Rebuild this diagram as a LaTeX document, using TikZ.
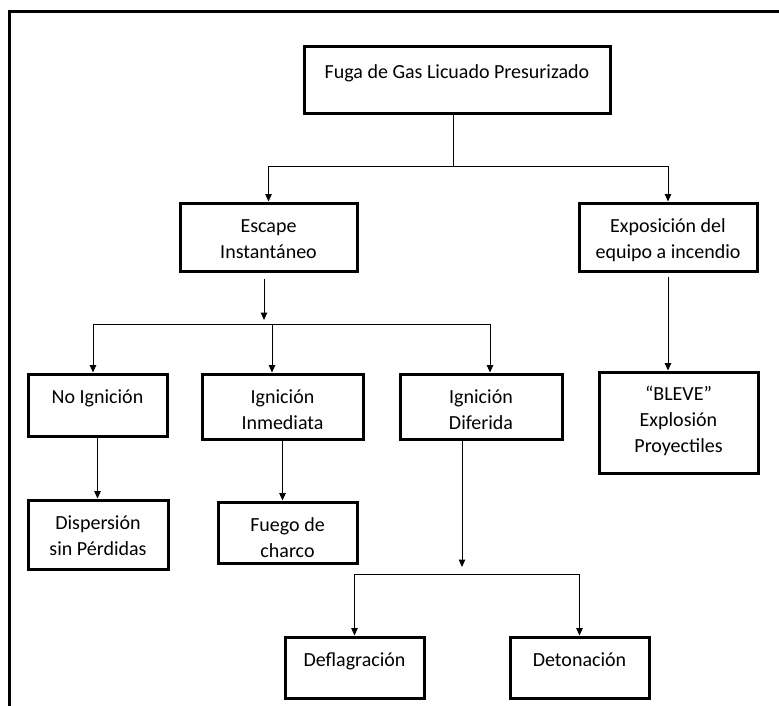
\documentclass[tikz,border=0pt]{standalone}
\usepackage{fontspec}
\setmainfont{Carlito}
\usetikzlibrary{arrows.meta}
\newcommand{\evtext}[4][11.5pt]{\parbox[c][#3pt][t]{#2pt}{\centering\vspace*{#1}\strut #4}}
\begin{document}
\begin{tikzpicture}[x=1pt,y=-1pt,
  event/.style={draw,line width=3pt,inner sep=0pt,font=\fontsize{20pt}{26pt}\selectfont},
  link/.style={line width=1pt},
  arrow/.style={link,-{Triangle[length=7.5pt,width=6.5pt]}}]
  \useasboundingbox (0,0) rectangle (779,706);
  \draw[line width=3pt] (9.5,706) -- (9.5,12) -- (779,12);
  \node[event] (root) at (457,80.5) {\evtext[13.5pt]{306}{67}{Fuga de Gas Licuado Presurizado}};
  \node[event] (esc) at (268.5,237) {\evtext{177}{68}{Escape\\Instantáneo}};
  \node[event] (expo) at (668,237) {\evtext{178}{68}{Exposición del\\equipo a incendio}};
  \node[event] (noig) at (97.5,405) {\evtext{139}{62}{No Ignición}};
  \node[event] (inm) at (282.5,406.5) {\evtext{161}{65}{Ignición\\Inmediata}};
  \node[event] (dif) at (481,406.5) {\evtext{162}{65}{Ignición\\Diferida}};
  \node[event] (bleve) at (678.5,422.5) {\evtext[10.5pt]{159}{101}{“BLEVE”\\Explosión\\Proyectiles}};
  \node[event] (disp) at (98,534.5) {\evtext{140}{69}{Dispersión\\sin Pérdidas}};
  \node[event] (fuego) at (287.5,532.5) {\evtext{139}{61}{Fuego de\\charco}};
  \node[event] (defl) at (354.5,667.5) {\evtext{139}{61}{Deflagración}};
  \node[event] (deto) at (579.5,667.5) {\evtext{139}{61}{Detonación}};
  \coordinate (j1) at (453,166);
  \coordinate (j2) at (264,324);
  \coordinate (b1) at (93,324);
  \coordinate (b2) at (272,324);
  \coordinate (b3) at (490,324);
  \coordinate (j3) at (462,574);
  \draw[link] (root.south -| j1) -- (j1);
  \draw[arrow] (j1) -| (esc.north);
  \draw[arrow] (j1) -| (expo.north);
  \draw[arrow] ([yshift=-6pt]esc.south -| j2) -- ([yshift=4pt]j2);
  \draw[link] (b1) -- (b3);
  \draw[arrow] (b1) -- (b1 |- noig.north);
  \draw[arrow] (b2) -- (b2 |- inm.north);
  \draw[arrow] (b3) -- (b3 |- dif.north);
  \draw[arrow] (noig.south) -- (noig.south |- disp.north);
  \draw[arrow] (inm.south) -- (inm.south |- fuego.north);
  \draw[arrow] (dif.south -| j3) -- ([yshift=7pt]j3);
  \draw[link] (defl.north |- j3) -- (deto.north |- j3);
  \draw[arrow] (defl.north |- j3) -- (defl.north);
  \draw[arrow] (deto.north |- j3) -- (deto.north);
  \draw[arrow] ([yshift=-4pt]expo.south) -- (expo.south |- bleve.north);
\end{tikzpicture}
\end{document}
